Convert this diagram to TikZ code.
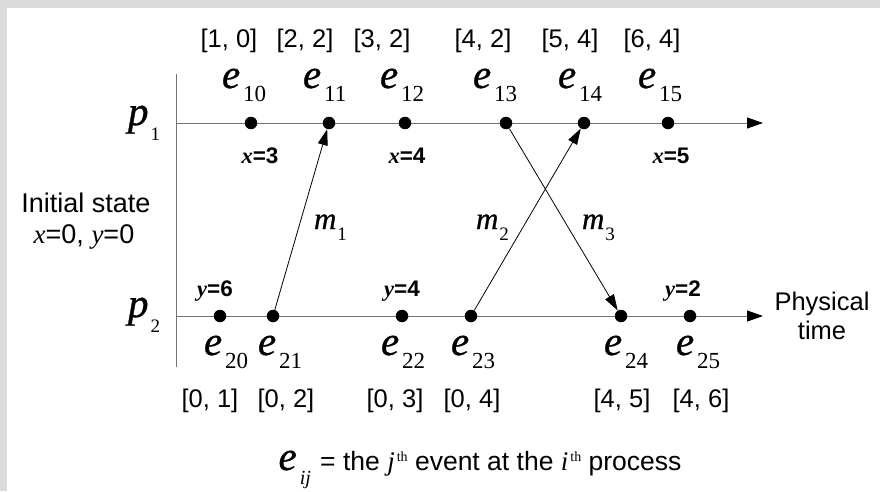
\documentclass[tikz,border=0pt]{standalone}
\usepackage{fontspec}
\setmainfont{Liberation Serif}
\setsansfont{Liberation Sans}
\newfontfamily\eital[FakeBold=0.8]{Liberation Serif Italic}
\usetikzlibrary{arrows.meta}
\newcommand\efont{\fontsize{41}{44}\selectfont\eital}
\newcommand\esubfont{\fontsize{23}{26}\selectfont\rmfamily\upshape}
\newcommand\psubfont{\fontsize{19}{22}\selectfont\rmfamily\upshape}
\newcommand\mfont{\fontsize{31}{34}\selectfont\eital}
\newcommand\sanslab{\fontsize{25.5}{29}\selectfont\sffamily}
\newcommand\boldlab{\fontsize{22.5}{25}\selectfont\bfseries}
\newcommand\ev[1]{{\efont e}\kern3pt\raisebox{-13pt}{\esubfont #1}}
\newcommand\pv[1]{{\efont p}\kern2pt\raisebox{-15pt}{\psubfont #1}}
\newcommand\mv[1]{{\mfont m}\kern1pt\raisebox{-11pt}{\psubfont #1}}
\newcommand\bl[2]{{\rmfamily\itshape #1}{\sffamily =#2}}
\begin{document}
\begin{tikzpicture}[x=1pt,y=-1pt,
  evdot/.style={circle,fill=black,inner sep=0pt,minimum size=12.5pt},
  proc/.style={draw=black!55,line width=1pt,-{Triangle[length=16pt,width=11pt,color=black]}},
  axis/.style={draw=black!55,line width=1pt},
  msg/.style={draw=black,line width=0.8pt,-{Triangle[length=16pt,width=10pt]}},
  txt/.style={inner sep=0pt,outer sep=0pt},
  vec/.style={txt,font=\sanslab,anchor=base},
  elab/.style={txt,anchor=base west},
  bold/.style={txt,font=\boldlab,anchor=base}]
\useasboundingbox (0,0) rectangle (880,491);
\fill[white] (0,0) rectangle (880,491);
\fill[black!14] (0,0) rectangle (880,8);
\fill[black!14] (0,0) rectangle (7,491);

% axes
\coordinate (vtop) at (176,74);
\coordinate (vbot) at (176,367);
\coordinate (s1) at (176,123);
\coordinate (t1) at (763,123);
\coordinate (s2) at (176,316);
\coordinate (t2) at (763,316);
\draw[axis] (vtop) -- (vbot);
\draw[proc] (s1) -- (t1);
\draw[proc] (s2) -- (t2);

% events
\node[evdot] (e10) at (251,123) {};
\node[evdot] (e11) at (329,123) {};
\node[evdot] (e12) at (405,123) {};
\node[evdot] (e13) at (506,123) {};
\node[evdot] (e14) at (584,123) {};
\node[evdot] (e15) at (668,123) {};
\node[evdot] (e20) at (220,316) {};
\node[evdot] (e21) at (273,316) {};
\node[evdot] (e22) at (402,316) {};
\node[evdot] (e23) at (471,316) {};
\node[evdot] (e24) at (621,316) {};
\node[evdot] (e25) at (690,316) {};

% messages
\draw[msg] (e21) -- (e11);
\draw[msg] (e23) -- (e14);
\draw[msg] (e13) -- (e24);

% process names
\node[elab] (p1) at (128,125) {\pv{1}};
\node[elab] (p2) at (128,317) {\pv{2}};

% message labels
\node[elab] (m1) at (314,229) {\mv{1}};
\node[elab] (m2) at (476,229) {\mv{2}};
\node[elab] (m3) at (582,229) {\mv{3}};

% top event labels
\node[elab] (le10) at (222,88) {\ev{10}};
\node[elab] (le11) at (303,88) {\ev{11}};
\node[elab] (le12) at (380,88) {\ev{12}};
\node[elab] (le13) at (473,88) {\ev{13}};
\node[elab] (le14) at (558,88) {\ev{14}};
\node[elab] (le15) at (638,88) {\ev{15}};

% bottom event labels
\node[elab] (le20) at (204,355) {\ev{20}};
\node[elab] (le21) at (258,355) {\ev{21}};
\node[elab] (le22) at (381,355) {\ev{22}};
\node[elab] (le23) at (451,355) {\ev{23}};
\node[elab] (le24) at (604,355) {\ev{24}};
\node[elab] (le25) at (676,355) {\ev{25}};

% vector timestamps
\node[vec] (v10) at (229,47) {[1, 0]};
\node[vec] (v11) at (305,47) {[2, 2]};
\node[vec] (v12) at (382,47) {[3, 2]};
\node[vec] (v13) at (483,47) {[4, 2]};
\node[vec] (v14) at (570,47) {[5, 4]};
\node[vec] (v15) at (652,47) {[6, 4]};
\node[vec] (v20) at (210,407) {[0, 1]};
\node[vec] (v21) at (286,407) {[0, 2]};
\node[vec] (v22) at (395,407) {[0, 3]};
\node[vec] (v23) at (472,407) {[0, 4]};
\node[vec] (v24) at (622,407) {[4, 5]};
\node[vec] (v25) at (701,407) {[4, 6]};

% state values
\node[bold] (x3) at (260,163) {\bl{x}{3}};
\node[bold] (x4) at (407,163) {\bl{x}{4}};
\node[bold] (x5) at (671,163) {\bl{x}{5}};
\node[bold] (y6) at (215,296) {\bl{y}{6}};
\node[bold] (y4) at (402,296) {\bl{y}{4}};
\node[bold] (y2) at (683,296) {\bl{y}{2}};

% initial state
\node[vec,font=\fontsize{27}{30}\selectfont\sffamily] (init) at (86,212) {Initial state};
\node[vec,font=\fontsize{27}{30}\selectfont\sffamily] (init2) at (84,243) {{\rmfamily\itshape x}=0, {\rmfamily\itshape y}=0};

% physical time
\node[txt,font=\sanslab,align=center,anchor=north] (phys) at (822,292) {Physical\\time};

% caption
\node[txt,anchor=base] (cap) at (480,470) {{\efont e}\kern3pt\raisebox{-14pt}{\fontsize{20}{22}\selectfont\rmfamily\itshape ij}\kern2pt{\fontsize{26.5}{29}\selectfont\sffamily\ = the }{\fontsize{27}{28}\selectfont\rmfamily\itshape j}\kern2pt\raisebox{9pt}{\fontsize{14}{15}\selectfont\rmfamily th}{\fontsize{26.5}{29}\selectfont\sffamily\ event at the }{\fontsize{27}{28}\selectfont\rmfamily\itshape i}\kern2pt\raisebox{9pt}{\fontsize{14}{15}\selectfont\rmfamily th}{\fontsize{26.5}{29}\selectfont\sffamily\ process}};
\end{tikzpicture}
\end{document}
